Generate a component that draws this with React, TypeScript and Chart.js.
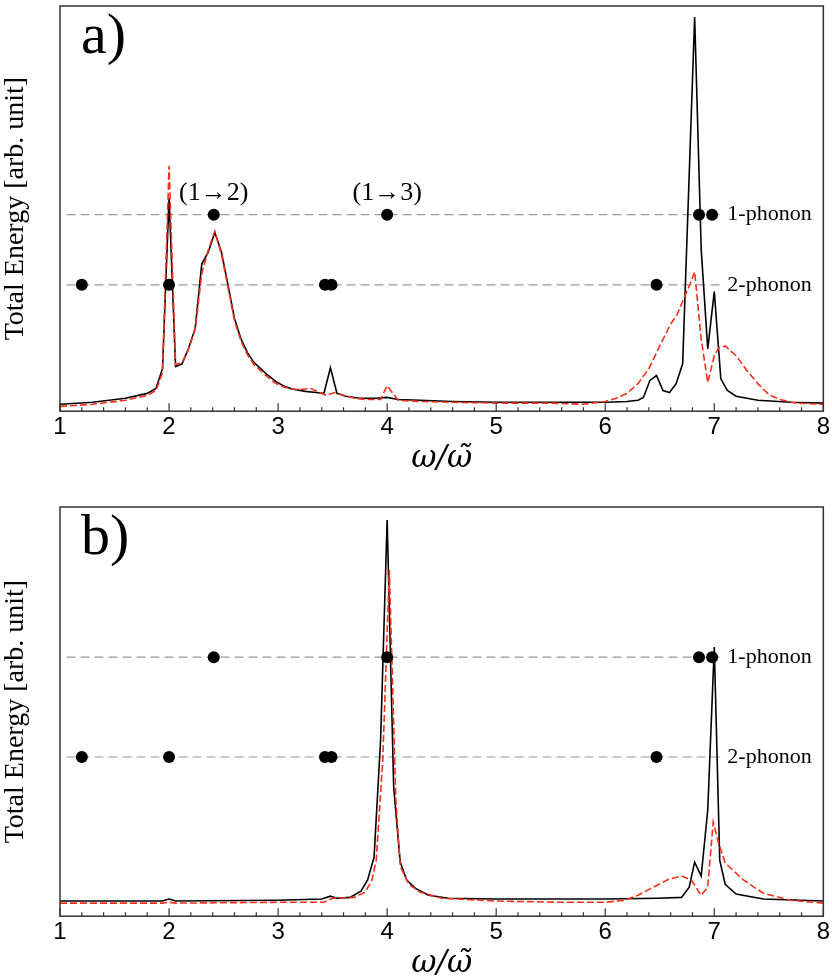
import { useEffect, useRef } from 'react';
import { Chart, registerables } from 'chart.js';

Chart.register(...registerables);

// x axis
const xTicks = [1, 2, 3, 4, 5, 6, 7, 8];
const xMinorStep = 0.2;

// panel a) black (solid) curve
const omegaBlackA = [1.0, 1.3, 1.6, 1.8, 1.88, 1.94, 2.0, 2.06, 2.12, 2.18, 2.24, 2.3, 2.36, 2.42, 2.48, 2.54, 2.6, 2.66, 2.72, 2.78, 2.84, 2.9, 2.98, 3.06, 3.14, 3.25, 3.35, 3.42, 3.48, 3.54, 3.62, 3.75, 3.9, 4.0, 4.1, 4.3, 4.6, 5.0, 5.5, 6.0, 6.2, 6.3, 6.35, 6.41, 6.47, 6.53, 6.59, 6.65, 6.71, 6.82, 6.88, 6.94, 7.0, 7.06, 7.12, 7.2, 7.4, 7.7, 8.0];
const energyBlackA = [1.7, 2.2, 3.2, 4.4, 5.6, 10.5, 52.7, 11.0, 11.7, 15.6, 20.5, 36.3, 39.3, 44.1, 39.3, 31.2, 22.9, 17.8, 14.4, 12.0, 10.5, 9.0, 7.3, 6.1, 5.4, 4.9, 4.6, 4.4, 10.7, 4.4, 3.7, 3.2, 3.2, 3.4, 2.9, 2.7, 2.4, 2.2, 2.2, 2.2, 2.4, 2.7, 3.4, 7.6, 8.8, 5.1, 4.6, 6.8, 11.7, 97.3, 40.0, 15.4, 29.5, 8.0, 5.1, 3.7, 2.7, 2.2, 2.0];

// panel a) red (dashed) curve
const omegaRedA = [1.0, 1.3, 1.6, 1.8, 1.88, 1.94, 2.0, 2.06, 2.12, 2.18, 2.24, 2.3, 2.36, 2.42, 2.48, 2.54, 2.6, 2.66, 2.72, 2.78, 2.84, 2.9, 2.98, 3.06, 3.14, 3.22, 3.3, 3.38, 3.44, 3.52, 3.6, 3.7, 3.8, 3.94, 4.0, 4.1, 4.3, 4.6, 5.0, 5.5, 5.8, 6.0, 6.1, 6.2, 6.3, 6.4, 6.5, 6.6, 6.66, 6.72, 6.78, 6.82, 6.88, 6.94, 7.0, 7.04, 7.1, 7.2, 7.3, 7.4, 7.5, 7.6, 7.75, 8.0];
const energyRedA = [1.2, 1.7, 2.7, 3.9, 5.1, 9.5, 60.5, 11.5, 12.0, 15.4, 20.2, 33.9, 39.8, 44.4, 38.8, 30.7, 22.4, 17.3, 13.9, 11.5, 10.0, 8.5, 6.8, 5.9, 5.4, 5.4, 5.6, 4.6, 3.9, 4.6, 3.9, 3.2, 2.9, 2.9, 6.3, 2.7, 2.4, 2.2, 2.0, 2.0, 1.7, 2.4, 3.2, 4.4, 6.8, 10.5, 16.1, 21.5, 23.9, 27.8, 31.5, 34.4, 17.8, 7.1, 13.7, 15.6, 16.1, 13.7, 10.0, 6.8, 4.1, 2.9, 2.0, 1.7];

// panel b) black (solid) curve
const omegaBlackB = [1.0, 1.94, 2.0, 2.06, 3.0, 3.4, 3.48, 3.54, 3.66, 3.76, 3.82, 3.88, 3.94, 4.0, 4.06, 4.12, 4.18, 4.26, 4.38, 4.56, 5.0, 6.0, 6.48, 6.7, 6.77, 6.82, 6.88, 6.94, 7.0, 7.05, 7.1, 7.2, 7.45, 8.0];
const energyBlackB = [3.7, 3.7, 4.2, 3.7, 3.9, 4.2, 4.9, 4.4, 4.6, 6.1, 8.8, 14.4, 43.0, 96.8, 31.5, 13.2, 8.8, 6.8, 5.1, 4.4, 4.2, 4.2, 4.4, 4.6, 7.1, 13.2, 9.8, 25.9, 65.8, 13.7, 7.8, 5.4, 4.2, 3.7];

// panel b) red (dashed) curve
const omegaRedB = [1.0, 1.94, 2.0, 2.06, 3.0, 3.42, 3.5, 3.7, 3.8, 3.86, 3.9, 3.96, 4.02, 4.08, 4.12, 4.2, 4.3, 4.5, 5.0, 5.6, 6.0, 6.18, 6.3, 6.42, 6.58, 6.7, 6.79, 6.88, 6.94, 6.99, 7.04, 7.1, 7.27, 7.45, 7.7, 8.0];
const energyRedB = [3.2, 3.2, 3.4, 3.2, 3.4, 3.4, 4.4, 4.6, 5.9, 8.8, 13.7, 38.1, 84.6, 28.4, 12.2, 7.8, 5.9, 4.4, 3.7, 3.4, 3.4, 3.9, 5.1, 6.8, 9.0, 9.8, 8.8, 5.1, 7.1, 23.0, 17.8, 13.0, 8.8, 5.6, 3.9, 3.2];

// transition frequencies (dots)
const onePhononOmega = [2.41, 4.0, 6.86, 6.98];
const twoPhononOmega = [1.2, 2.0, 3.43, 3.49, 6.47];
// level of the guide lines: [1-phonon, 2-phonon]
const levelsA = [48.5, 31.2];
const levelsB = [63.3, 38.9];
const guideRange = [1.06, 7.06];
const levelLabels = ['1-phonon', '2-phonon'];
const levelLabelOmega = 7.12;

// text notes in panel a)
const notesA = [
  { text: '(1→2)', x: 2.41, y: 52.0 },
  { text: '(1→3)', x: 4.0, y: 52.0 },
];

const RED = '#f5301a';
const SERIF = '"Liberation Serif", "DejaVu Serif", serif';

type Note = { text: string; x: number; y: number };

const zip = (xs: number[], ys: number[]) => xs.map((x, i) => ({ x, y: ys[i] }));

function decor(panel: string, levels: number[], notes: Note[]) {
  return {
    id: 'decor',
    afterDatasetsDraw(chart: Chart) {
      const { ctx, chartArea: a } = chart;
      const xs = chart.scales.x;
      const ys = chart.scales.y;
      ctx.save();

      // frame
      ctx.strokeStyle = '#333';
      ctx.lineWidth = 1.5;
      ctx.strokeRect(a.left, a.top, a.right - a.left, a.bottom - a.top);

      // inward ticks on the bottom axis
      ctx.beginPath();
      ctx.lineWidth = 1.2;
      const n = Math.round((xTicks[xTicks.length - 1] - xTicks[0]) / xMinorStep);
      for (let i = 0; i <= n; i++) {
        const v = xTicks[0] + i * xMinorStep;
        const px = xs.getPixelForValue(v);
        const major = i % 5 === 0;
        ctx.moveTo(px, a.bottom);
        ctx.lineTo(px, a.bottom - (major ? 8 : 4));
      }
      ctx.stroke();

      ctx.fillStyle = '#000';
      // level labels
      ctx.font = `22px ${SERIF}`;
      ctx.textAlign = 'left';
      ctx.textBaseline = 'middle';
      levels.forEach((lv, i) => {
        ctx.fillText(levelLabels[i], xs.getPixelForValue(levelLabelOmega), ys.getPixelForValue(lv));
      });

      // transition notes
      ctx.font = `26px ${SERIF}`;
      ctx.textAlign = 'center';
      ctx.textBaseline = 'alphabetic';
      notes.forEach((nt) => {
        ctx.fillText(nt.text, xs.getPixelForValue(nt.x), ys.getPixelForValue(nt.y));
      });

      // panel label
      ctx.font = `58px ${SERIF}`;
      ctx.textAlign = 'left';
      ctx.fillText(panel, a.left + 21, a.top + 47);

      // y title
      ctx.font = `28px ${SERIF}`;
      ctx.translate(23, (a.top + a.bottom) / 2);
      ctx.rotate(-Math.PI / 2);
      ctx.textAlign = 'center';
      ctx.fillText('Total Energy [arb. unit]', 0, 0);
      ctx.restore();
    },
  };
}

function buildConfig(
  panel: string,
  black: { x: number; y: number }[],
  red: { x: number; y: number }[],
  levels: number[],
  notes: Note[],
  pad: { top: number; bottom: number },
) {
  const guide = (lv: number) => ({
    data: guideRange.map((x) => ({ x, y: lv })),
    borderColor: '#9a9a9a',
    borderWidth: 1.2,
    borderDash: [9, 5],
    pointRadius: 0,
  });
  return {
    type: 'line' as const,
    data: {
      datasets: [
        {
          data: [
            ...onePhononOmega.map((x) => ({ x, y: levels[0] })),
            ...twoPhononOmega.map((x) => ({ x, y: levels[1] })),
          ],
          showLine: false,
          pointRadius: 6,
          pointBackgroundColor: '#000',
          pointBorderWidth: 0,
        },
        {
          data: red,
          borderColor: RED,
          borderWidth: 1.6,
          borderDash: [7, 3],
          pointRadius: 0,
        },
        {
          data: black,
          borderColor: '#000',
          borderWidth: 1.6,
          pointRadius: 0,
        },
        guide(levels[0]),
        guide(levels[1]),
      ],
    },
    options: {
      responsive: false,
      animation: false,
      layout: { padding: { left: 60, right: 6, top: pad.top, bottom: pad.bottom } },
      plugins: { legend: { display: false }, tooltip: { enabled: false } },
      scales: {
        x: {
          type: 'linear' as const,
          min: 1,
          max: 8,
          afterBuildTicks: (scale: any) => {
            scale.ticks = xTicks.map((value) => ({ value }));
          },
          grid: { display: false, drawTicks: false },
          border: { display: false },
          ticks: {
            padding: 2,
            color: '#000',
            font: { family: '"Liberation Sans", Arial, sans-serif', size: 24, lineHeight: 1.2 },
          },
          title: {
            display: true,
            text: 'ω/ω̃',
            color: '#000',
            padding: 0,
            font: { family: '"DejaVu Serif", serif', size: 31, style: 'italic' as const, lineHeight: 30 / 31 },
          },
        },
        y: { display: false, min: 0, max: 100 },
      },
    },
    plugins: [decor(panel, levels, notes)],
  };
}

function Panel(props: {
  panel: string;
  black: { x: number; y: number }[];
  red: { x: number; y: number }[];
  levels: number[];
  notes: Note[];
  height: number;
  pad: { top: number; bottom: number };
}) {
  const ref = useRef<HTMLCanvasElement>(null);
  useEffect(() => {
    if (!ref.current) return;
    const chart = new Chart(ref.current, buildConfig(props.panel, props.black, props.red, props.levels, props.notes, props.pad) as any);
    return () => chart.destroy();
  }, []);
  return <canvas ref={ref} width={832} height={props.height} style={{ display: 'block' }} />;
}

export default function App() {
  return (
    <div style={{ position: 'absolute', left: 0, top: 0, width: 832, height: 978, overflow: 'hidden', background: '#fff' }}>
      <div style={{ position: 'absolute', left: 0, top: 0 }}>
        <Panel
          panel="a)"
          black={zip(omegaBlackA, energyBlackA)}
          red={zip(omegaRedA, energyRedA)}
          levels={levelsA}
          notes={notesA}
          height={490}
          pad={{ top: 1, bottom: 16 }}
        />
      </div>
      <div style={{ position: 'absolute', left: 0, top: 490 }}>
        <Panel
          panel="b)"
          black={zip(omegaBlackB, energyBlackB)}
          red={zip(omegaRedB, energyRedB)}
          levels={levelsB}
          notes={[]}
          height={500}
          pad={{ top: 17, bottom: 11 }}
        />
      </div>
    </div>
  );
}
